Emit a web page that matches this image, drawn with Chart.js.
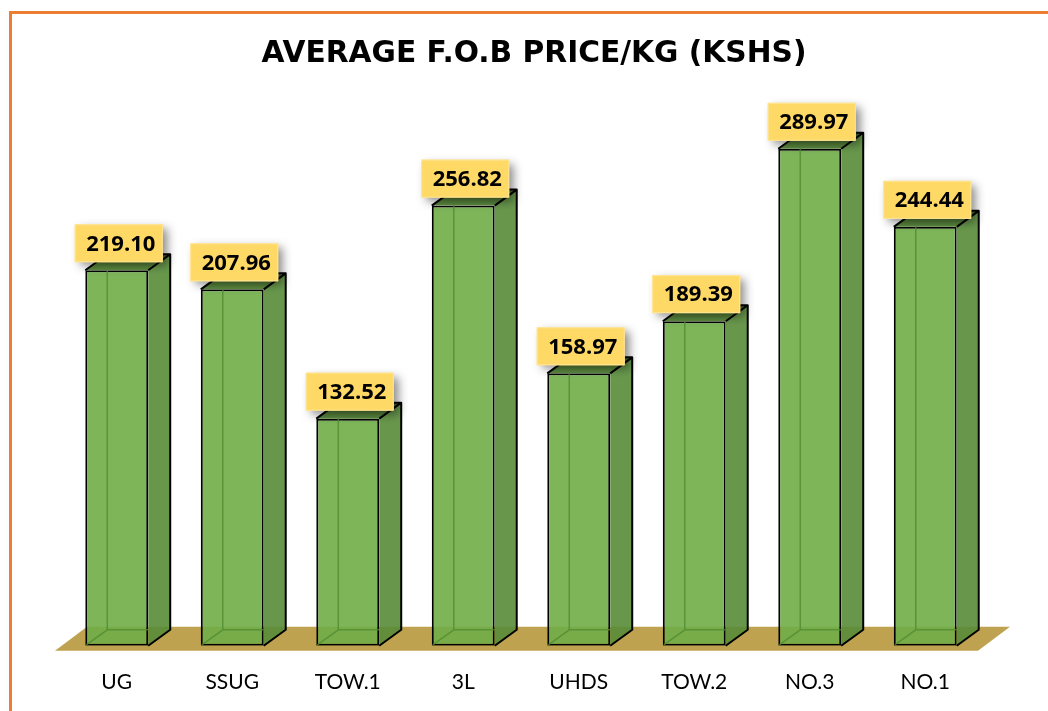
<!DOCTYPE html>
<html>
<head>
<meta charset="utf-8">
<script src="https://cdn.jsdelivr.net/npm/chart.js@4.4.1/dist/chart.umd.min.js"></script>
<style>
  html, body { margin: 0; padding: 0; background: #fff; overflow: hidden; }
  #frame {
    position: absolute; left: 9px; top: 11px;
    width: 2000px; height: 2000px;
    border-left: 3px solid #ED7D31; border-top: 3px solid #ED7D31;
  }
  #myChart { position: absolute; left: 0; top: 0; }
</style>
</head>
<body>
<div id="frame"></div>
<canvas id="myChart" width="1048" height="711"></canvas>
<script>
const titulo = 'AVERAGE F.O.B PRICE/KG (KSHS)';
const categorias = ['UG', 'SSUG', 'TOW.1', '3L', 'UHDS', 'TOW.2', 'NO.3', 'NO.1'];
const precos = [219.10, 207.96, 132.52, 256.82, 158.97, 189.39, 289.97, 244.44];

// profundidade do efeito 3D
const DX = 22, DY = 16;

// chao dourado por baixo das barras
const chao = {
  id: 'chao',
  beforeDatasetsDraw(chart) {
    const { ctx, chartArea } = chart;
    const b = chartArea.bottom;
    ctx.save();
    ctx.fillStyle = '#BFA24F';
    ctx.beginPath();
    ctx.moveTo(chartArea.left - 4, b + 5);
    ctx.lineTo(chartArea.right - 5, b + 5);
    ctx.lineTo(chartArea.right + 27, b - 19);
    ctx.lineTo(chartArea.left + 28, b - 19);
    ctx.closePath();
    ctx.fill();
    ctx.restore();
  }
};

// faces laterais, topo e rotulos
const barras3d = {
  id: 'barras3d',
  afterDatasetsDraw(chart) {
    const { ctx } = chart;
    const meta = chart.getDatasetMeta(0);
    ctx.save();
    meta.data.forEach((bar, i) => {
      const l = bar.x - bar.width / 2, r = bar.x + bar.width / 2;
      const t = bar.y, base = bar.base;

      // arestas de tras vistas pela transparencia
      ctx.strokeStyle = 'rgba(80,140,50,0.8)';
      ctx.lineWidth = 1.5;
      ctx.beginPath();
      ctx.moveTo(l + DX, t - DY + 2);
      ctx.lineTo(l + DX, base - DY);
      ctx.lineTo(r, base - DY);
      ctx.moveTo(l + 1, base - 1);
      ctx.lineTo(l + DX, base - DY);
      ctx.stroke();

      // lateral
      ctx.fillStyle = 'rgba(88,140,56,0.9)';
      ctx.beginPath();
      ctx.moveTo(r, t);
      ctx.lineTo(r + DX, t - DY);
      ctx.lineTo(r + DX, base - DY);
      ctx.lineTo(r, base);
      ctx.closePath();
      ctx.fill();

      // topo
      const g = ctx.createLinearGradient(0, t - DY, 0, t);
      g.addColorStop(0, '#4A7232');
      g.addColorStop(1, '#5E8C40');
      ctx.fillStyle = g;
      ctx.beginPath();
      ctx.moveTo(l, t);
      ctx.lineTo(l + DX, t - DY);
      ctx.lineTo(r + DX, t - DY);
      ctx.lineTo(r, t);
      ctx.closePath();
      ctx.fill();

      ctx.strokeStyle = '#000';
      ctx.lineWidth = 2;
      ctx.lineJoin = 'round';
      ctx.beginPath();
      ctx.moveTo(l, t);
      ctx.lineTo(l + DX, t - DY);
      ctx.lineTo(r + DX, t - DY);
      ctx.lineTo(r, t);
      ctx.moveTo(r + DX, t - DY);
      ctx.lineTo(r + DX, base - DY);
      ctx.lineTo(r, base);
      ctx.stroke();

      // rotulo amarelo
      const w = 88, h = 38;
      const bx = bar.x + 2 - w / 2, by = t - 8 - h;
      ctx.save();
      ctx.shadowColor = 'rgba(0,0,0,0.45)';
      ctx.shadowBlur = 9;
      ctx.shadowOffsetX = 5;
      ctx.shadowOffsetY = 4;
      ctx.fillStyle = '#FFD966';
      ctx.fillRect(bx, by, w, h);
      ctx.restore();
      ctx.strokeStyle = '#FFE699';
      ctx.lineWidth = 1;
      ctx.strokeRect(bx + 0.5, by + 0.5, w - 1, h - 1);
      ctx.fillStyle = '#000';
      ctx.font = 'bold 22px "Open Sans"';
      ctx.textAlign = 'center';
      ctx.textBaseline = 'middle';
      ctx.fillText(precos[i].toFixed(2), bx + w / 2 + 2, by + h / 2 + 1);
    });
    ctx.restore();
  }
};

// titulo centrado na pagina (o do Chart.js ficava deslocado pelo padding)
const tituloPlugin = {
  id: 'tituloPlugin',
  afterDraw(chart) {
    const { ctx } = chart;
    ctx.save();
    ctx.fillStyle = '#000';
    ctx.font = 'bold 29.7px "DejaVu Sans"';
    ctx.textAlign = 'center';
    ctx.textBaseline = 'alphabetic';
    ctx.fillText(titulo, 534, 62);
    ctx.restore();
  }
};

const config = {
  type: 'bar',
  data: {
    labels: categorias,
    datasets: [{
      label: 'Preco',
      data: precos,
      backgroundColor: 'rgba(112,173,71,0.9)',
      borderColor: '#000',
      borderWidth: 2,
      borderSkipped: false,
      categoryPercentage: 1,
      barPercentage: 0.545
    }]
  },
  options: {
    responsive: false,
    animation: false,
    layout: { padding: { left: 59, right: 65, top: 131.6, bottom: -8 } },
    scales: {
      x: {
        grid: { display: false, drawTicks: false },
        border: { display: false },
        ticks: {
          color: '#000',
          padding: 24,
          maxRotation: 0,
          font: { family: 'Lato', size: 21 }
        }
      },
      y: {
        display: false,
        min: 0,
        max: 300
      }
    },
    plugins: {
      legend: { display: false },
      tooltip: { enabled: false },
      title: { display: false }
    }
  },
  plugins: [chao, barras3d, tituloPlugin]
};

window.onload = function() {
  const ctx = document.getElementById('myChart').getContext('2d');
  new Chart(ctx, config);
};
</script>
</body>
</html>
